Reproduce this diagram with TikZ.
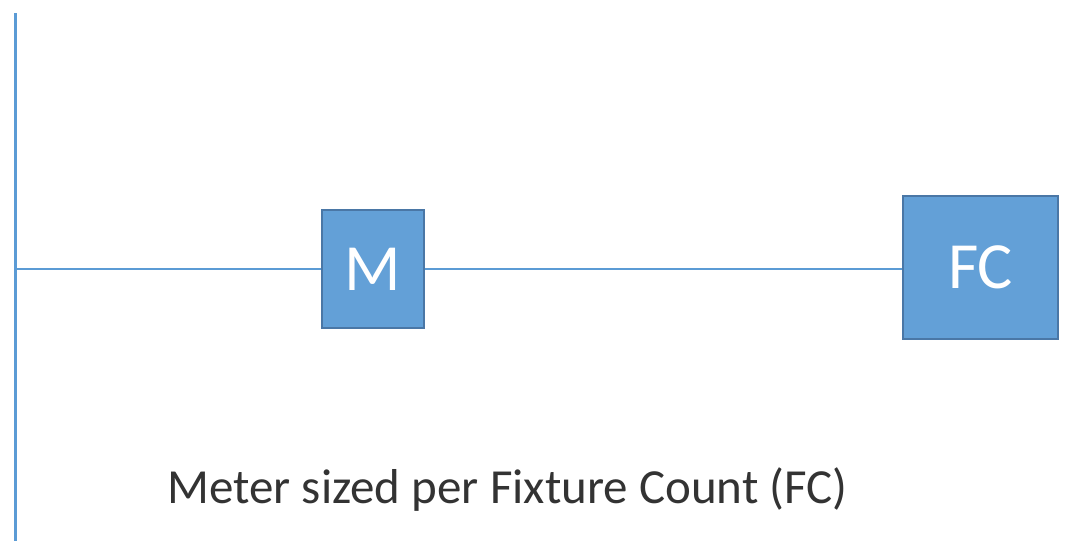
\documentclass[tikz,border=0pt]{standalone}
\usepackage{fontspec}
\setmainfont{Carlito}
\definecolor{pipeblue}{HTML}{5B9BD5}
\definecolor{boxedge}{HTML}{4A77A6}
\begin{document}
\begin{tikzpicture}[x=1pt, y=-1pt,
  devbox/.style={draw=boxedge, line width=2pt, fill=pipeblue!95!white, text=white, inner sep=0pt},
  pipe/.style={pipeblue, line width=2pt}]
\useasboundingbox (0,0) rectangle (1081,558);

% Main supply line
\coordinate (top) at (15.5,13);
\coordinate (bottom) at (15.5,541);
\coordinate (tap) at (15.5,269);
\draw[pipeblue, line width=3pt] (top) -- (bottom);

% Meter and fixture count
\node[devbox, minimum width=102pt, minimum height=118pt, font=\fontsize{66}{70}\selectfont] (meter) at (373,269) {M};
\node[devbox, minimum width=155pt, minimum height=143pt, font=\fontsize{66}{70}\selectfont] (fixtures) at (980.5,267.5) {FC};

% Branch
\draw[pipe] (tap) -- (meter.west);
\draw[pipe] (meter.east) -- (meter.east -| fixtures.west);

% Caption
\node[font=\fontsize{49}{56}\selectfont, text=black!80] (caption) at (507.5,490) {Meter sized per Fixture Count (FC)};
\end{tikzpicture}
\end{document}
